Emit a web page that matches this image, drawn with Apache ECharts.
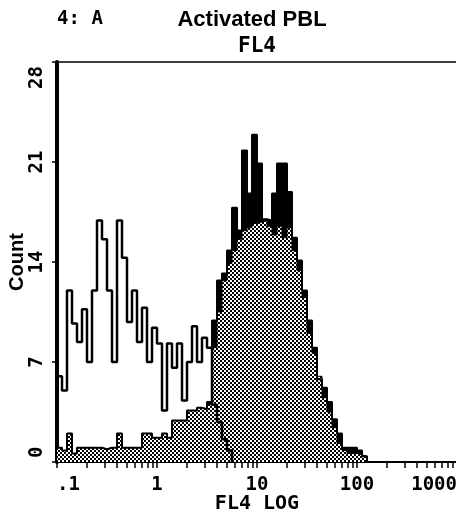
<!DOCTYPE html>
<html>
<head>
<meta charset="utf-8">
<script src="https://cdn.jsdelivr.net/npm/echarts@6/dist/echarts.min.js"></script>
<style>
  html, body { margin: 0; padding: 0; background: #fff; }
  #chart { width: 456px; height: 513px; }
</style>
</head>
<body>
<div id="chart"></div>
<script>
// histogram channels: 20 per decade, first one starting at 0.1
const binsPerDecade = 20
const xStart = 0.1

// unshaded population (left peak)
const openCounts = [
  6.0, 5.0, 12.0, 9.7, 8.4, 10.7, 7.0, 12.0, 16.9, 15.6,
  12.0, 7.0, 16.9, 14.3, 9.8, 12.0, 8.4, 10.8, 7.0, 9.4,
  8.3, 3.6, 8.3, 6.6, 8.3, 4.3, 7.0, 9.5, 7.0, 8.7,
  8.0, 4.0, 2.8, 1.6, 0.8
]

// shaded population, jagged top (black)
const peakTop = [
  1.0, 0.8, 2.0, 0.6, 1.0, 1.0, 1.0, 1.0, 1.0, 0.9,
  1.0, 1.0, 2.0, 1.0, 1.0, 1.0, 1.0, 2.0, 2.0, 1.7,
  1.7, 2.0, 1.7, 2.9, 2.9, 2.9, 3.6, 3.6, 3.8, 3.7,
  4.2, 9.9, 12.7, 13.2, 14.8, 17.8, 16.2, 21.8, 18.8, 22.9,
  20.9, 17.0, 16.9, 18.8, 20.9, 20.9, 18.9, 15.7, 14.1, 12.0,
  9.9, 8.0, 5.8, 5.2, 4.2, 3.0, 2.0, 1.0, 1.0, 1.0,
  0.8, 0.4
]

// shaded population, dotted fill
const peakFill = [
  1.0, 0.8, 2.0, 0.6, 1.0, 1.0, 1.0, 1.0, 1.0, 0.9,
  1.0, 1.0, 2.0, 1.0, 1.0, 1.0, 1.0, 2.0, 2.0, 1.7,
  1.7, 2.0, 1.7, 2.9, 2.9, 2.9, 3.6, 3.6, 3.8, 3.7,
  4.0, 8.0, 10.5, 12.7, 13.9, 14.8, 15.6, 16.2, 16.4, 16.7,
  16.8, 16.9, 16.5, 15.9, 16.5, 15.7, 16.4, 14.8, 13.4, 11.5,
  9.0, 7.6, 6.0, 4.5, 3.5, 2.4, 1.3, 0.8, 0.6, 0.6,
  0.5, 0.4
]

const xTickValues = [0.1, 1, 10, 100, 1000]
const xTickLabels = ['.1', '1', '10', '100', '1000']

const monoFont = 'DejaVu Sans Mono'
const sansFont = 'Liberation Sans'

function edge(i) {
  return xStart * Math.pow(10, i / binsPerDecade)
}

function stepData(counts) {
  const pts = counts.map((c, i) => [edge(i), c])
  pts.push([edge(counts.length), 0])
  return pts
}

// 1..9 ticks inside every decade
const minorTicks = []
for (let d = 0; d < 4; d++) {
  for (let k = 1; k < 10; k++) minorTicks.push(xStart * Math.pow(10, d) * k)
}
minorTicks.push(1000)

function makeDots() {
  const c = document.createElement('canvas')
  c.width = 4
  c.height = 4
  const ctx = c.getContext('2d')
  ctx.fillStyle = '#ffffff'
  ctx.fillRect(0, 0, 4, 4)
  ctx.fillStyle = '#000000'
  ctx.fillRect(0, 0, 2, 2)
  ctx.fillRect(2, 2, 2, 2)
  return c
}

const myChart = echarts.init(document.getElementById('chart'))

const options = {
  animation: false,
  backgroundColor: '#fff',
  grid: {
    left: 57,
    top: 62,
    width: 400,
    height: 400,
    outerBoundsMode: 'none',
    containLabel: false,
    show: true,
    borderColor: '#000',
    borderWidth: 1.5,
    backgroundColor: 'transparent'
  },
  graphic: [
    {
      type: 'text', x: 80, y: 19,
      style: { text: '4: A', fontFamily: monoFont, fontWeight: 'bold', fontSize: 19, fill: '#000', textAlign: 'center', textVerticalAlign: 'middle' }
    },
    {
      type: 'text', x: 252, y: 20,
      style: { text: 'Activated PBL', fontFamily: sansFont, fontWeight: 'bold', fontSize: 22, fill: '#000', textAlign: 'center', textVerticalAlign: 'middle' }
    },
    {
      type: 'text', x: 257, y: 47,
      style: { text: 'FL4', fontFamily: monoFont, fontWeight: 'bold', fontSize: 21, fill: '#000', textAlign: 'center', textVerticalAlign: 'middle' }
    }
  ],
  xAxis: {
    type: 'log',
    logBase: 10,
    min: 0.1,
    max: 1000,
    name: 'FL4 LOG',
    nameLocation: 'middle',
    nameGap: 32,
    nameMoveOverlap: false,
    nameTextStyle: { fontFamily: monoFont, fontWeight: 'bold', fontSize: 20, color: '#000', verticalAlign: 'top' },
    axisLine: { lineStyle: { color: '#000', width: 2 } },
    axisTick: { show: true, length: 6, customValues: minorTicks, lineStyle: { color: '#000', width: 1.5 } },
    axisLabel: {
      customValues: xTickValues,
      formatter: (v) => xTickLabels[Math.round(Math.log10(v)) + 1],
      margin: 14,
      alignMinLabel: 'left',
      alignMaxLabel: 'right',
      fontFamily: monoFont,
      fontWeight: 'bold',
      fontSize: 19,
      color: '#000'
    },
    splitLine: { show: false }
  },
  yAxis: {
    type: 'value',
    min: 0,
    max: 28,
    interval: 7,
    name: 'Count',
    nameLocation: 'middle',
    nameGap: 30,
    nameMoveOverlap: false,
    nameRotate: 90,
    nameTextStyle: { fontFamily: sansFont, fontWeight: 'bold', fontSize: 20, color: '#000' },
    axisLine: { show: true, lineStyle: { color: '#000', width: 4 } },
    axisTick: { show: true, length: 5, lineStyle: { color: '#000', width: 1.5 } },
    axisLabel: {
      rotate: 90,
      margin: 10,
      alignMinLabel: 'left',
      alignMaxLabel: 'right',
      fontFamily: monoFont,
      fontWeight: 'bold',
      fontSize: 19,
      color: '#000',
      padding: [0, 4, 0, 4]
    },
    splitLine: { show: false }
  },
  series: [
    {
      name: 'peak top',
      type: 'line',
      step: 'end',
      symbol: 'none',
      silent: true,
      lineStyle: { color: '#000', width: 2 },
      areaStyle: { color: '#000', opacity: 1 },
      data: stepData(peakTop)
    },
    {
      name: 'peak fill',
      type: 'line',
      step: 'end',
      symbol: 'none',
      silent: true,
      lineStyle: { color: '#000', width: 1 },
      areaStyle: { color: { image: makeDots(), repeat: 'repeat' }, opacity: 1 },
      data: stepData(peakFill)
    },
    {
      name: 'open',
      type: 'line',
      step: 'end',
      symbol: 'none',
      silent: true,
      lineStyle: { color: '#000', width: 2.5 },
      data: stepData(openCounts)
    }
  ]
}

myChart.setOption(options)
</script>
</body>
</html>
